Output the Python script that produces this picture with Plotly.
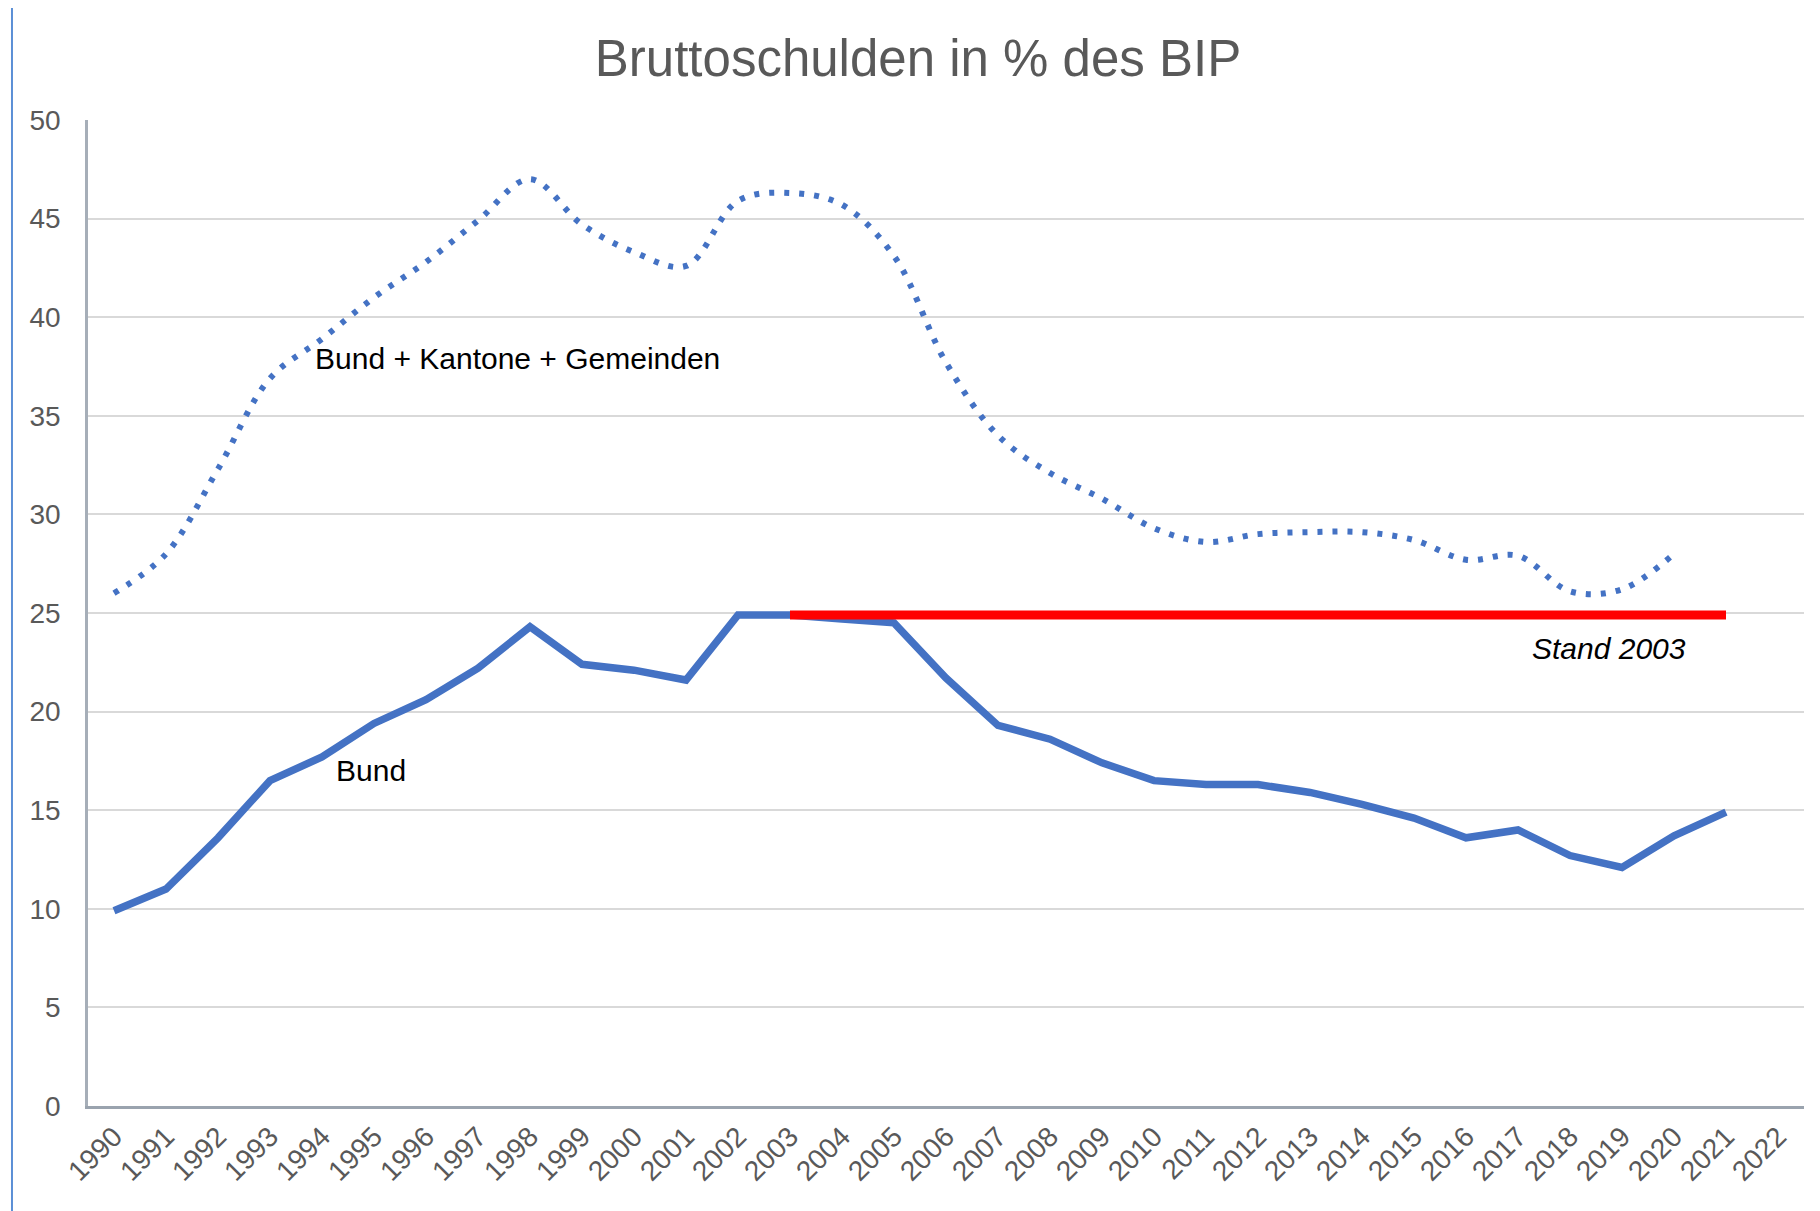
import plotly.graph_objects as go

years = [str(y) for y in range(1990, 2023)]

bund = [9.9, 11.0, 13.6, 16.5, 17.7, 19.4, 20.6, 22.2, 24.3, 22.4, 22.1, 21.6,
        24.9, 24.9, 24.7, 24.5, 21.7, 19.3, 18.6, 17.4, 16.5, 16.3, 16.3, 15.9,
        15.3, 14.6, 13.6, 14.0, 12.7, 12.1, 13.7, 14.9]
bund_years = years[:len(bund)]

bkg = [26.0, 28.0, 32.3, 36.9, 38.9, 41.0, 42.8, 44.9, 47.0, 44.7, 43.3, 42.6,
       45.9, 46.3, 45.7, 43.1, 37.7, 34.0, 32.1, 30.8, 29.3, 28.6, 29.0, 29.1,
       29.1, 28.7, 27.7, 27.9, 26.1, 26.2, 28.0]
bkg_years = years[:len(bkg)]

stand_years = years[13:32]
stand = [24.9] * len(stand_years)

y_ticks = [0, 5, 10, 15, 20, 25, 30, 35, 40, 45, 50]

BLUE = "#4472C4"
RED = "#FF0000"
GREY = "#595959"
FONT = "Liberation Sans, Arial, sans-serif"

fig = go.Figure()
fig.add_trace(go.Scatter(
    x=bkg_years, y=bkg, mode="lines", name="Bund + Kantone + Gemeinden",
    line=dict(color=BLUE, width=6, dash="5px,10px", shape="spline", smoothing=1.0),
))
fig.add_trace(go.Scatter(
    x=bund_years, y=bund, mode="lines", name="Bund",
    line=dict(color=BLUE, width=7.5),
))
fig.add_trace(go.Scatter(
    x=stand_years, y=stand, mode="lines", name="Stand 2003",
    line=dict(color=RED, width=9),
))

fig.update_layout(
    width=1820, height=1211,
    margin=dict(l=80, r=24, t=112, b=113),
    paper_bgcolor="white", plot_bgcolor="white",
    showlegend=False,
    font=dict(family=FONT, color=GREY, size=28),
    title=dict(text="Bruttoschulden in % des BIP", x=0.5, xanchor="center",
               y=0.9587, yanchor="middle", yref="container",
               font=dict(family=FONT, size=51, color=GREY)),
)

fig.update_xaxes(
    type="category", categoryorder="array", categoryarray=years,
    tickvals=years, ticktext=years,
    range=[-0.5, len(years) - 0.5], tickangle=-45,
    showgrid=False, showline=True, linecolor="#9AA3AE", linewidth=3,
    ticks="", tickfont=dict(family=FONT, size=28, color=GREY),
)
fig.update_yaxes(
    range=[0, 50], tickvals=y_ticks,
    showgrid=True, gridcolor="#D9D9D9", gridwidth=2,
    showline=True, linecolor="#A6AEB8", linewidth=2.5,
    zeroline=False, ticks="", ticklabelstandoff=19,
    tickfont=dict(family=FONT, size=28, color=GREY),
)

fig.add_annotation(x=3.83, y=37.9, xref="x", yref="y", text="Bund + Kantone + Gemeinden",
                   showarrow=False, xanchor="left", yanchor="middle",
                   font=dict(family=FONT, size=30, color="black"))
fig.add_annotation(x=4.24, y=17.0, xref="x", yref="y", text="Bund",
                   showarrow=False, xanchor="left", yanchor="middle",
                   font=dict(family=FONT, size=30, color="black"))
fig.add_annotation(x=30.27, y=23.2, xref="x", yref="y", text="<i>Stand 2003</i>",
                   showarrow=False, xanchor="right", yanchor="middle",
                   font=dict(family=FONT, size=30, color="black"))

# thin frame line at the left (as in the screenshot)
fig.add_shape(type="line", xref="paper", yref="paper",
              x0=-0.0443, x1=-0.0443, y0=-0.2, y1=1.2,
              line=dict(color="#5B8FD6", width=2))

fig.write_html("out.html")
